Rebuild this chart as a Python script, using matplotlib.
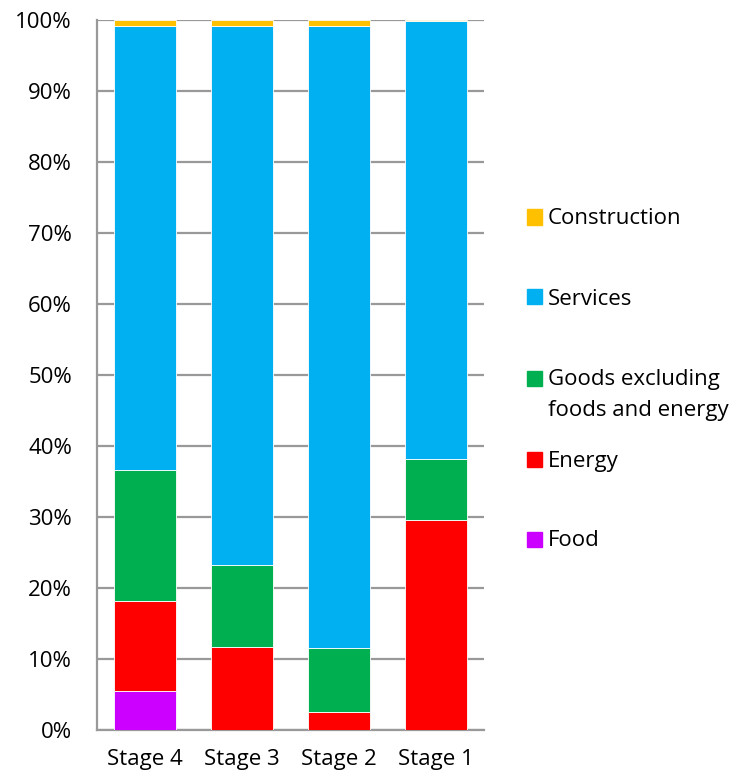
import matplotlib.pyplot as plt
from matplotlib.patches import Rectangle

stages = ["Stage 4", "Stage 3", "Stage 2", "Stage 1"]
food = [5.5, 0.0, 0.0, 0.0]
energy = [12.7, 11.7, 2.6, 29.6]
goods = [18.4, 11.5, 9.0, 8.6]
services = [62.6, 75.9, 87.6, 61.7]
construction = [0.8, 0.9, 0.8, 0.1]

series = [
    ("Food", food, "#CC00FF"),
    ("Energy", energy, "#FF0000"),
    ("Goods excluding\nfoods and energy", goods, "#00B050"),
    ("Services", services, "#00B0F0"),
    ("Construction", construction, "#FFC000"),
]

plt.rcParams["font.family"] = ["Open Sans", "DejaVu Sans"]
FS = 16

fig = plt.figure(figsize=(7.4, 7.78), dpi=100)
ax = fig.add_axes([0.131, 0.0617, 0.523, 0.9126])

x = list(range(len(stages)))
bottom = [0.0] * len(stages)
for label, vals, color in series:
    ax.bar(x, vals, bottom=bottom, width=0.64, color=color,
           edgecolor="white", linewidth=0.6, zorder=3)
    bottom = [b + v for b, v in zip(bottom, vals)]

ax.set_xlim(-0.5, len(stages) - 0.5)
ax.set_ylim(0, 100)
ax.set_yticks(range(0, 101, 10))
ax.set_yticklabels([f"{v}%" for v in range(0, 101, 10)])
ax.set_xticks(x, stages)
ax.tick_params(axis="both", length=0, labelsize=FS, colors="#000000")
ax.tick_params(axis="y", pad=18)
ax.tick_params(axis="x", pad=14)
ax.grid(axis="y", color="#999999", linewidth=1.6, zorder=0)
ax.set_axisbelow(True)
for side in ("top", "right"):
    ax.spines[side].set_visible(False)
for side in ("left", "bottom"):
    ax.spines[side].set_color("#999999")
    ax.spines[side].set_linewidth(1.6)

# legend drawn by hand, top entry first (pixel rows from the top)
legend_y = [217, 297, 378, 459, 539]
for (label, vals, color), ypx in zip(reversed(series), legend_y):
    fig.patches.append(Rectangle((527 / 740, 1 - (ypx + 7.5) / 778), 15 / 740, 15 / 778,
                                 transform=fig.transFigure, color=color))
    for i, line in enumerate(label.split("\n")):
        fig.text(548 / 740, 1 - (ypx + 2 + 31 * i) / 778, line, fontsize=FS,
                 va="center", ha="left")

fig.savefig("out.png", dpi=100)
